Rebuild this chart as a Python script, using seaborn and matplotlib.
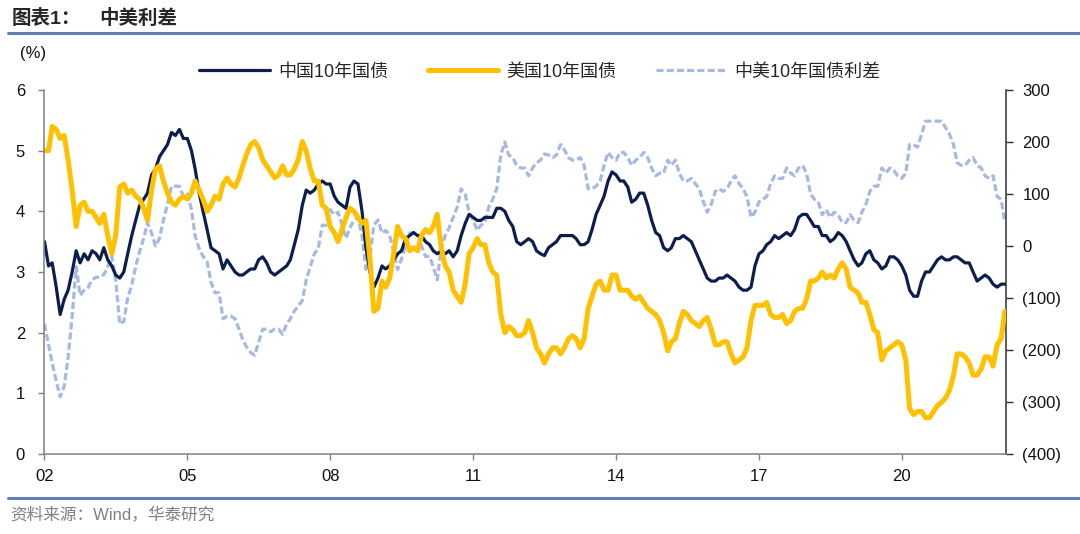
import matplotlib
matplotlib.use("Agg")
import matplotlib.pyplot as plt
import matplotlib.ticker as mticker
import seaborn as sns
import pandas as pd

# monthly readings (%), Jan 2002 - Mar 2022
cn_10y = [
    3.5, 3.1, 3.15, 2.75, 2.3, 2.55, 2.7, 3.0, 3.35, 3.15, 3.3, 3.2,      # 2002
    3.35, 3.3, 3.2, 3.4, 3.2, 3.1, 2.95, 2.9, 3.0, 3.3, 3.6, 3.85,       # 2003
    4.1, 4.2, 4.3, 4.6, 4.7, 4.9, 5.0, 5.1, 5.3, 5.25, 5.35, 5.2,        # 2004
    5.2, 5.0, 4.7, 4.3, 4.0, 3.7, 3.4, 3.35, 3.3, 3.05, 3.2, 3.1,        # 2005
    3.0, 2.95, 2.95, 3.0, 3.05, 3.05, 3.2, 3.25, 3.15, 3.0, 2.95, 3.0,   # 2006
    3.05, 3.1, 3.2, 3.45, 3.7, 4.1, 4.35, 4.3, 4.35, 4.45, 4.5, 4.45,    # 2007
    4.45, 4.25, 4.15, 4.1, 4.05, 4.4, 4.5, 4.45, 4.0, 3.4, 3.0, 2.75,    # 2008
    2.9, 3.1, 3.05, 3.1, 3.2, 3.3, 3.35, 3.55, 3.6, 3.65, 3.6, 3.6,      # 2009
    3.5, 3.45, 3.35, 3.3, 3.35, 3.3, 3.35, 3.25, 3.35, 3.6, 3.8, 3.95,   # 2010
    3.9, 3.85, 3.85, 3.9, 3.9, 3.9, 4.05, 4.05, 4.0, 3.85, 3.75, 3.5,    # 2011
    3.45, 3.5, 3.55, 3.5, 3.35, 3.3, 3.27, 3.4, 3.45, 3.5, 3.6, 3.6,     # 2012
    3.6, 3.6, 3.55, 3.45, 3.45, 3.5, 3.7, 3.95, 4.1, 4.25, 4.5, 4.65,    # 2013
    4.6, 4.5, 4.5, 4.4, 4.15, 4.2, 4.3, 4.3, 4.1, 3.85, 3.65, 3.6,       # 2014
    3.4, 3.35, 3.4, 3.55, 3.55, 3.6, 3.55, 3.5, 3.35, 3.2, 3.05, 2.9,    # 2015
    2.85, 2.85, 2.9, 2.9, 2.95, 2.9, 2.85, 2.75, 2.7, 2.7, 2.75, 3.1,    # 2016
    3.3, 3.35, 3.45, 3.5, 3.6, 3.55, 3.6, 3.65, 3.6, 3.7, 3.9, 3.95,     # 2017
    3.95, 3.85, 3.75, 3.75, 3.6, 3.6, 3.5, 3.55, 3.65, 3.6, 3.5, 3.35,   # 2018
    3.2, 3.1, 3.15, 3.3, 3.35, 3.2, 3.15, 3.05, 3.1, 3.25, 3.25, 3.2,    # 2019
    3.1, 2.95, 2.7, 2.6, 2.6, 2.85, 3.0, 3.0, 3.1, 3.2, 3.25, 3.2,       # 2020
    3.2, 3.25, 3.25, 3.2, 3.15, 3.15, 3.0, 2.85, 2.9, 2.95, 2.9, 2.8,    # 2021
    2.75, 2.8, 2.8,                                                      # 2022
]
us_10y = [
    5.0, 5.0, 5.4, 5.35, 5.2, 5.25, 4.85, 4.35, 3.75, 4.1, 4.15, 4.0,    # 2002
    4.0, 3.9, 3.8, 3.95, 3.6, 3.3, 3.6, 4.4, 4.45, 4.3, 4.35, 4.25,      # 2003
    4.2, 4.05, 3.85, 4.35, 4.7, 4.75, 4.5, 4.3, 4.15, 4.1, 4.2, 4.25,    # 2004
    4.2, 4.3, 4.5, 4.35, 4.2, 4.0, 4.1, 4.25, 4.2, 4.45, 4.55, 4.45,     # 2005
    4.4, 4.55, 4.75, 4.95, 5.1, 5.15, 5.05, 4.85, 4.75, 4.65, 4.55, 4.6, # 2006
    4.75, 4.6, 4.6, 4.7, 4.85, 5.15, 5.0, 4.7, 4.5, 4.5, 4.1, 4.05,      # 2007
    3.75, 3.65, 3.5, 3.7, 3.9, 4.05, 4.0, 3.9, 3.8, 3.85, 3.2, 2.35,     # 2008
    2.4, 2.85, 2.75, 2.9, 3.3, 3.75, 3.6, 3.55, 3.35, 3.4, 3.35, 3.6,    # 2009
    3.7, 3.65, 3.75, 3.95, 3.4, 3.1, 3.0, 2.7, 2.6, 2.5, 2.8, 3.3,       # 2010
    3.4, 3.55, 3.45, 3.45, 3.15, 3.0, 2.95, 2.3, 2.0, 2.1, 2.05, 1.95,   # 2011
    1.95, 2.0, 2.2, 2.0, 1.75, 1.65, 1.5, 1.65, 1.75, 1.75, 1.65, 1.75,  # 2012
    1.9, 1.95, 1.9, 1.75, 1.9, 2.4, 2.6, 2.8, 2.85, 2.7, 2.7, 2.95,      # 2013
    2.95, 2.7, 2.7, 2.7, 2.6, 2.55, 2.6, 2.5, 2.4, 2.35, 2.3, 2.2,       # 2014
    2.0, 1.7, 1.85, 1.9, 2.15, 2.35, 2.3, 2.2, 2.15, 2.1, 2.2, 2.25,     # 2015
    2.05, 1.8, 1.8, 1.85, 1.85, 1.65, 1.5, 1.55, 1.6, 1.75, 2.2, 2.45,   # 2016
    2.45, 2.45, 2.5, 2.3, 2.25, 2.25, 2.3, 2.15, 2.2, 2.35, 2.4, 2.4,    # 2017
    2.55, 2.85, 2.85, 2.9, 3.0, 2.9, 2.95, 2.9, 3.05, 3.15, 3.05, 2.75,  # 2018
    2.7, 2.65, 2.5, 2.5, 2.3, 2.05, 2.0, 1.55, 1.7, 1.75, 1.8, 1.85,     # 2019
    1.8, 1.55, 0.75, 0.65, 0.7, 0.7, 0.6, 0.6, 0.7, 0.8, 0.85, 0.92,     # 2020
    1.05, 1.3, 1.65, 1.65, 1.6, 1.5, 1.3, 1.3, 1.4, 1.6, 1.6, 1.45,      # 2021
    1.8, 1.9, 2.35,                                                      # 2022
]
tick_years = [2002, 2005, 2008, 2011, 2014, 2017, 2020]
tick_labels = ["02", "05", "08", "11", "14", "17", "20"]
left_ticks = [0, 1, 2, 3, 4, 5, 6]
right_ticks = [300, 200, 100, 0, -100, -200, -300, -400]
series_names = ["中国10年国债", "美国10年国债", "中美10年国债利差"]

df = pd.DataFrame({
    "date": pd.date_range("2002-01-01", periods=len(cn_10y), freq="MS"),
    "cn": cn_10y,
    "us": us_10y,
})
df["spread"] = (df["cn"] - df["us"]) * 100

sns.set_theme(style="white")
plt.rcParams["font.family"] = ["Liberation Sans", "Noto Sans CJK SC"]

NAVY = "#0B1E4E"
GOLD = "#FFC000"
LIGHT = "#A6B9E3"
RULE = "#5F80B0"

fig = plt.figure(figsize=(10.8, 5.34), dpi=100)
ax = fig.add_axes([0.0412, 0.1498, 0.8900, 0.6817])
ax2 = ax.twinx()
ax.set_zorder(ax2.get_zorder() + 1)
ax.patch.set_visible(False)

sns.lineplot(data=df, x="date", y="spread", ax=ax2, color=LIGHT, lw=2.3,
             linestyle=(0, (2.2, 1.0)), label=series_names[2], legend=False)
sns.lineplot(data=df, x="date", y="cn", ax=ax, color=NAVY, lw=2.3,
             label=series_names[0], legend=False)
sns.lineplot(data=df, x="date", y="us", ax=ax, color=GOLD, lw=3.6,
             label=series_names[1], legend=False)

ax.set_xlim(pd.Timestamp("2002-01-01"), pd.Timestamp("2022-03-08"))
ax.set_ylim(0, 6)
ax2.set_ylim(-400, 300)

ax.set_xticks([pd.Timestamp(f"{y}-01-01") for y in tick_years])
ax.set_xticklabels(tick_labels)
ax.set_yticks(left_ticks)
ax2.set_yticks(right_ticks)
ax2.yaxis.set_major_formatter(mticker.FuncFormatter(
    lambda v, p: f"({abs(int(v))})" if v < 0 else f"{int(v)}"))

ax.set_xlabel("")
ax.set_ylabel("")
ax2.set_ylabel("")

for a in (ax, ax2):
    for s in a.spines.values():
        s.set_visible(False)
ax.spines["left"].set_visible(True)
ax.spines["bottom"].set_visible(True)
ax.spines["left"].set_color("#808080")
ax.spines["bottom"].set_color("#808080")
ax.spines["left"].set_linewidth(1.1)
ax.spines["bottom"].set_linewidth(1.1)
ax2.spines["right"].set_visible(True)
ax2.spines["right"].set_color("#303030")
ax2.spines["right"].set_linewidth(1.1)

ax.tick_params(axis="y", which="both", left=True, direction="out", length=4,
               width=1, color="#808080", labelsize=12, pad=10, labelcolor="#111111")
ax.tick_params(axis="x", which="both", bottom=True, direction="out", length=4,
               width=1, color="#808080", labelsize=12, pad=7, labelcolor="#111111")
ax2.tick_params(axis="y", right=True, direction="out", length=5, width=1,
                color="#303030", labelsize=12, pad=7, labelcolor="#111111")
ax.grid(False)
ax2.grid(False)

# legend across the top
handles = ax.get_lines()[:2] + ax2.get_lines()[:1]
fig.legend(handles, series_names, loc="center", bbox_to_anchor=(0.5, 0.865),
           ncol=3, frameon=False, fontsize=13, handlelength=3.9,
           handletextpad=0.45, columnspacing=2.2, labelcolor="#262626")

fig.text(0.0306, 0.9, "(%)", fontsize=12, color="#111111", va="center", ha="center")

# header and footer
fig.text(0.011, 0.966, "图表1：", fontsize=14, fontweight="bold", va="center")
fig.text(0.092, 0.966, "中美利差", fontsize=14, fontweight="bold", va="center")
fig.add_artist(plt.Line2D([0.007, 1.0], [0.939, 0.939], color=RULE, lw=2.2))
fig.add_artist(plt.Line2D([0.007, 1.0], [0.068, 0.068], color=RULE, lw=2.2))
fig.text(0.009, 0.037, "资料来源：Wind，华泰研究", fontsize=12, color="#808080", va="center")

fig.savefig("out.png", dpi=100)
